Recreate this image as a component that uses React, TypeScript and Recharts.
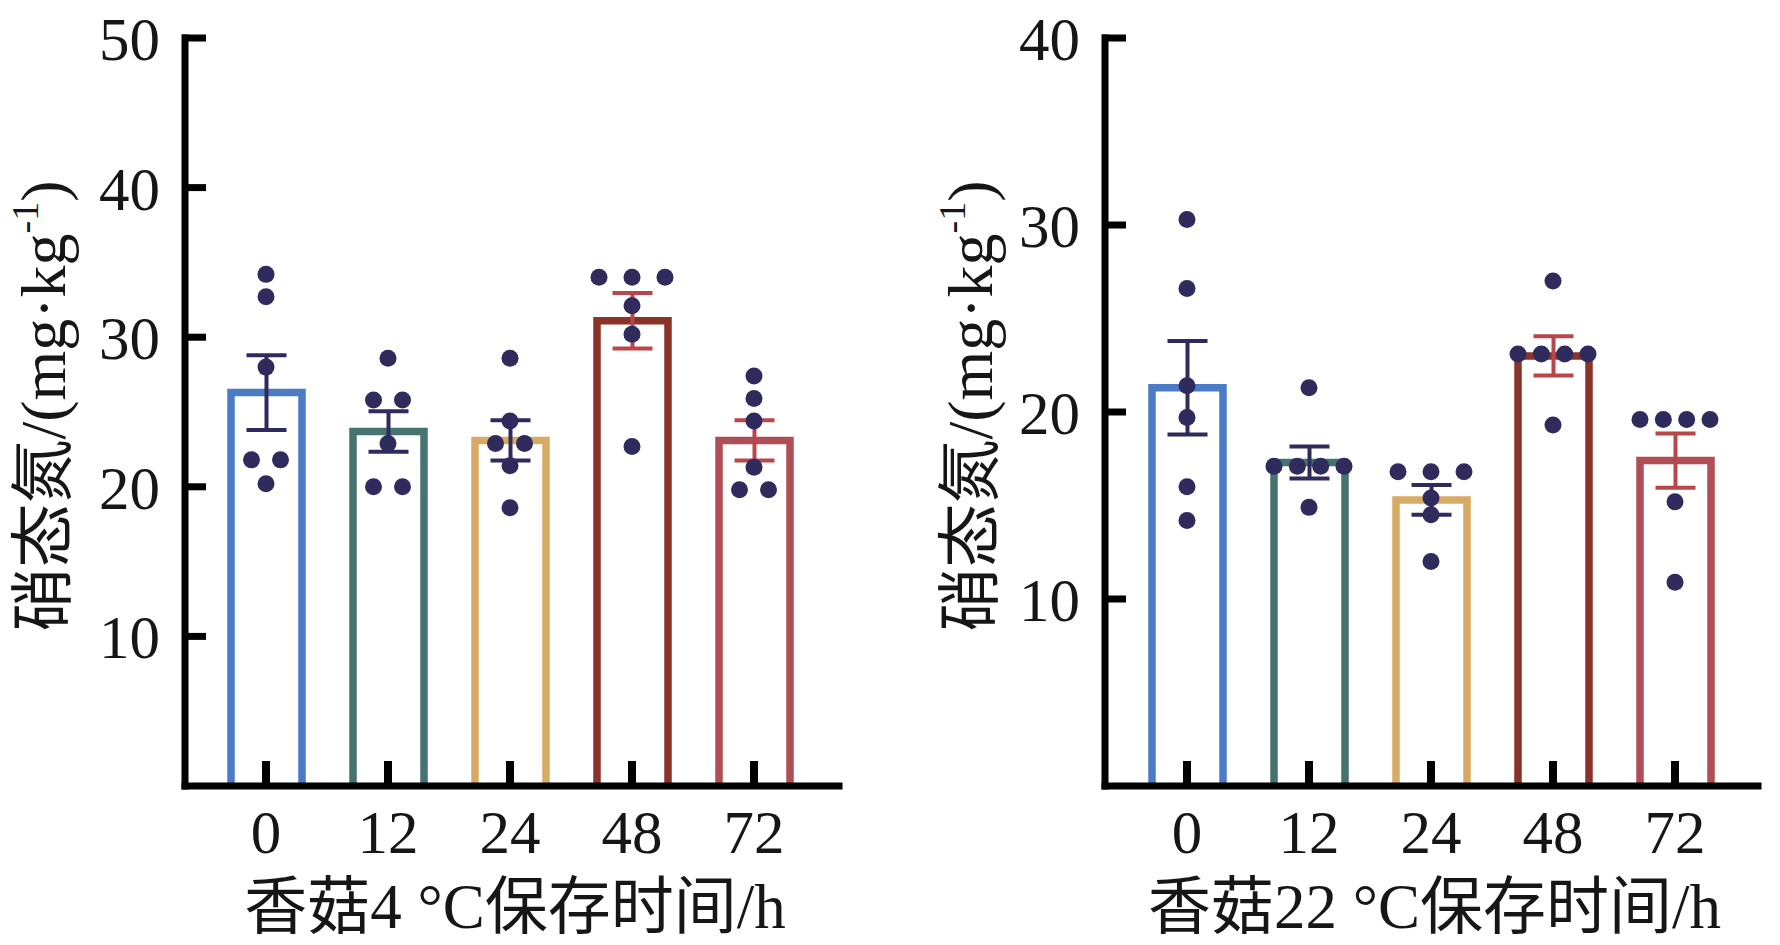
import { ComposedChart, Bar, ErrorBar, Scatter, XAxis, YAxis } from "recharts";

const CATEGORIES = ["0", "12", "24", "48", "72"];

// 4 °C storage
const COLD_MEANS = [26.3, 23.7, 23.1, 31.1, 23.1];
const COLD_SEMS = [2.5, 1.35, 1.35, 1.85, 1.35];
const COLD_DOTS = [
  [34.2, 32.7, 28.0, 21.8, 21.8, 20.2],
  [28.6, 25.8, 25.8, 22.9, 20.0, 20.0],
  [28.6, 24.4, 22.9, 22.9, 21.4, 18.6],
  [34.0, 34.0, 34.0, 32.1, 30.2, 22.7],
  [27.4, 25.9, 24.4, 21.3, 19.8, 19.8],
];
const COLD_TICKS = [10, 20, 30, 40, 50];

// 22 °C storage
const WARM_MEANS = [21.3, 17.3, 15.3, 23.0, 17.4];
const WARM_SEMS = [2.5, 0.85, 0.8, 1.05, 1.45];
const WARM_DOTS = [
  [30.3, 26.6, 21.4, 19.7, 16.0, 14.2],
  [21.3, 17.1, 17.1, 17.1, 17.1, 14.9],
  [16.8, 16.8, 16.8, 15.4, 14.5, 12.0],
  [27.0, 23.1, 23.1, 23.1, 23.1, 19.3],
  [19.6, 19.6, 19.6, 19.6, 15.2, 10.9],
];
const WARM_TICKS = [10, 20, 30, 40];

const NAVY = "#2f2b5d";
const BAR_COLORS = ["#4a7bc4", "#46726f", "#d7ab63", "#8a3429", "#b04e57"];
const ERR_COLORS = [NAVY, NAVY, NAVY, "#b8474b", "#b8474b"];
const ERR_GROUPS = Array.from(new Set(ERR_COLORS));
const FONT = '"Liberation Serif", "Noto Sans CJK SC", serif';
const INK = "#161616";

const buildRows = (means: number[], sems: number[], dots: number[][]) =>
  CATEGORIES.map((cat, i) => {
    const row: any = { cat, mean: means[i], dots: dots[i] };
    dots[i].forEach((v, j) => (row[`d${j}`] = v));
    ERR_GROUPS.forEach((c, k) => (row[`e${k}`] = ERR_COLORS[i] === c ? sems[i] : undefined));
    return row;
  });

// spread dots sharing the same value sideways
const rowOffset = (vals: number[], i: number) => {
  const same = vals.map((_, j) => j).filter((j) => vals[j] === vals[i]);
  const n = same.length;
  if (n < 2) return 0;
  const step = Math.min(n === 2 ? 29 : 33, 70 / (n - 1));
  return (same.indexOf(i) - (n - 1) / 2) * step;
};

const OpenBar = (p: any) => {
  const idx = p.index ?? CATEGORIES.indexOf(p.payload?.cat);
  const bottom = p.y + p.height;
  return (
    <path
      d={`M${p.x},${bottom} V${p.y} H${p.x + p.width} V${bottom}`}
      fill="none"
      stroke={BAR_COLORS[idx]}
      strokeWidth={7.5}
    />
  );
};

const YTick = (p: any) => (
  <g>
    <line x1={p.x - 3} x2={p.x + 21} y1={p.y} y2={p.y} stroke="#000" strokeWidth={7} />
    <text x={p.x - 25} y={p.y + 22} textAnchor="end" fontSize={61} fontFamily={FONT} fill={INK}>
      {p.payload.value}
    </text>
  </g>
);

const XTick = (p: any) => (
  <g>
    <line x1={p.x} x2={p.x} y1={p.y} y2={p.y - 25} stroke="#000" strokeWidth={8} />
    <text x={p.x} y={p.y + 67} textAnchor="middle" fontSize={61} fontFamily={FONT} fill={INK}>
      {p.payload.value}
    </text>
  </g>
);

type PanelProps = {
  left: number;
  means: number[];
  sems: number[];
  dots: number[][];
  max: number;
  ticks: number[];
  axisWidth: number;
  marginRight: number;
  pad: { left: number; right: number };
  yTitleX: number;
  xTitle: string;
};

const Panel = ({ left, means, sems, dots, max, ticks, axisWidth, marginRight, pad, yTitleX, xTitle }: PanelProps) => {
  const rows = buildRows(means, sems, dots);
  return (
    <div style={{ position: "absolute", left, top: 0 }}>
      <ComposedChart
        width={890}
        height={945}
        data={rows}
        margin={{ top: 38, right: marginRight, bottom: 0, left: 0 }}
      >
        <XAxis
          dataKey="cat"
          height={159}
          interval={0}
          padding={pad}
          tickSize={0}
          tickMargin={0}
          tickLine={false}
          tick={XTick}
          axisLine={{ stroke: "#000", strokeWidth: 7, strokeLinecap: "square" }}
          label={{
            content: (lp: any) => (
              <text
                x={lp.viewBox.x + lp.viewBox.width / 2 + 3}
                y={lp.viewBox.y + 142}
                textAnchor="middle"
                fontSize={63}
                fontFamily={FONT}
                fill={INK}
              >
                {xTitle}
              </text>
            ),
          }}
        />
        <YAxis
          type="number"
          domain={[0, max]}
          ticks={ticks}
          interval={0}
          width={axisWidth}
          tickSize={0}
          tickMargin={0}
          tickLine={false}
          tick={YTick}
          axisLine={{ stroke: "#000", strokeWidth: 7, strokeLinecap: "square" }}
          label={{
            content: (lp: any) => {
              const x = lp.viewBox.x + yTitleX;
              const y = 406;
              return (
                <text
                  x={x}
                  y={y}
                  transform={`rotate(-90, ${x}, ${y})`}
                  textAnchor="middle"
                  fontSize={64}
                  fontFamily={FONT}
                  fill={INK}
                >
                  硝态氮/(mg·kg
                  <tspan dy={-27} fontSize={38}>-1</tspan>
                  <tspan dy={27}>)</tspan>
                </text>
              );
            },
          }}
        />
        <Bar dataKey="mean" barSize={71} shape={OpenBar} isAnimationActive={false}>
          {ERR_GROUPS.map((c, k) => (
            <ErrorBar
              key={c}
              dataKey={`e${k}`}
              width={20}
              strokeWidth={4}
              stroke={c}
              isAnimationActive={false}
            />
          ))}
        </Bar>
        {dots[0].map((_, i) => (
          <Scatter
            key={i}
            dataKey={`d${i}`}
            isAnimationActive={false}
            shape={(sp: any) => (
              <circle
                cx={sp.cx + rowOffset(sp.payload.dots, i)}
                cy={sp.cy}
                r={8.5}
                fill={NAVY}
              />
            )}
          />
        ))}
      </ComposedChart>
    </div>
  );
};

export default function App() {
  return (
    <div
      style={{
        position: "absolute",
        left: 0,
        top: 0,
        width: 1780,
        height: 945,
        background: "#fff",
        fontFamily: FONT,
      }}
    >
      <Panel
        left={0}
        means={COLD_MEANS}
        sems={COLD_SEMS}
        dots={COLD_DOTS}
        max={50}
        ticks={COLD_TICKS}
        axisWidth={185}
        marginRight={51}
        pad={{ left: 20, right: 24 }}
        yTitleX={65}
        xTitle="香菇4 °C保存时间/h"
      />
      <Panel
        left={890}
        means={WARM_MEANS}
        sems={WARM_SEMS}
        dots={WARM_DOTS}
        max={40}
        ticks={WARM_TICKS}
        axisWidth={215}
        marginRight={22}
        pad={{ left: 21, right: 22 }}
        yTitleX={102}
        xTitle="香菇22 °C保存时间/h"
      />
    </div>
  );
}
